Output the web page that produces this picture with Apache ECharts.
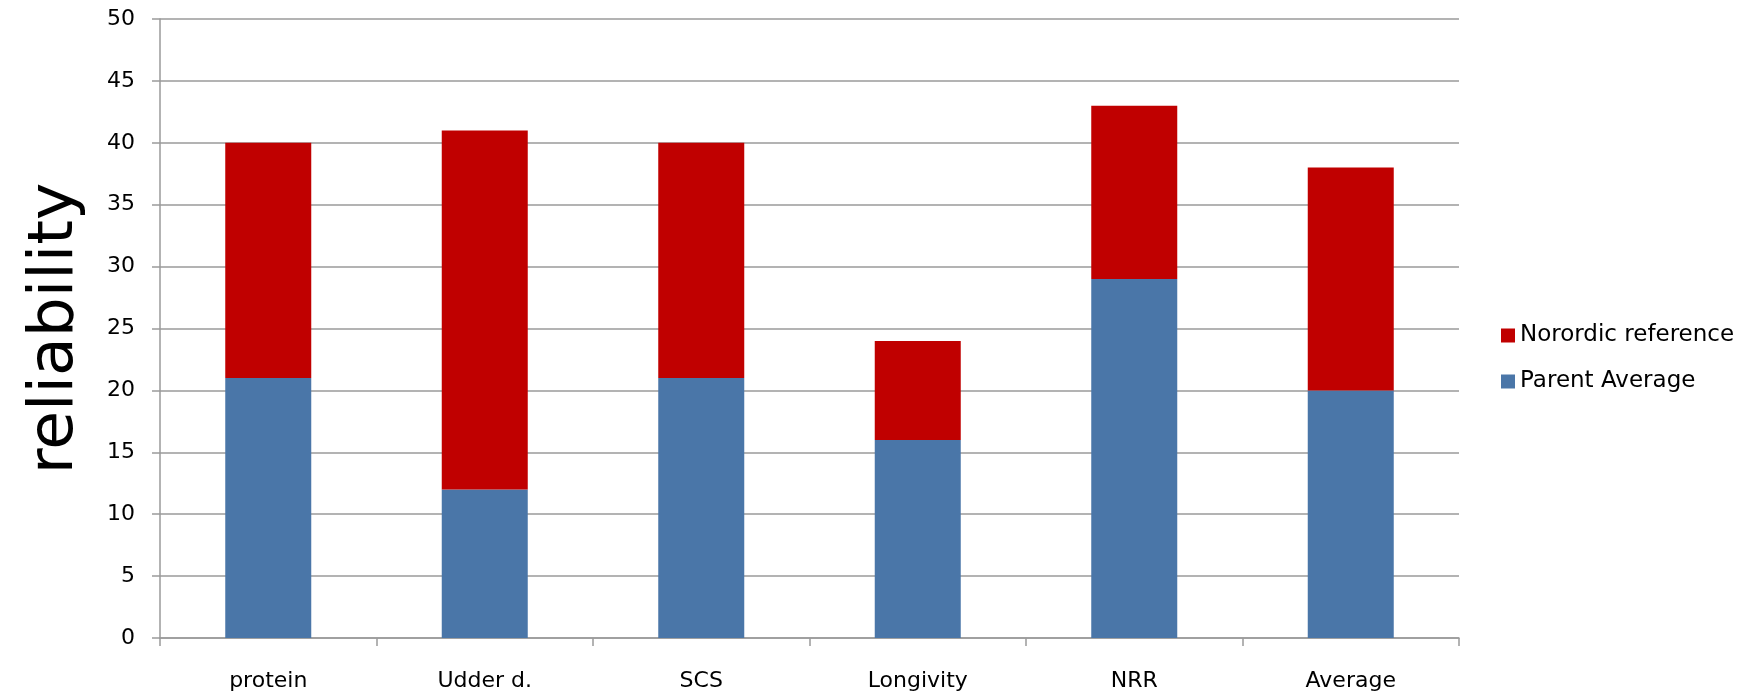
<!DOCTYPE html>
<html>
<head>
<meta charset="utf-8">
<script src="https://cdn.jsdelivr.net/npm/echarts@6/dist/echarts.min.js"></script>
<style>
  html, body { margin: 0; padding: 0; background: #fff; }
  #chart { width: 1758px; height: 694px; }
</style>
</head>
<body>
<div id="chart"></div>
<script>
// Reliability per trait, split into parent-average part and Nordic reference gain
const categories = ['protein', 'Udder d.', 'SCS', 'Longivity', 'NRR', 'Average'];
const parentAverage = [21, 12, 21, 16, 29, 20];
const nordicReference = [19, 29, 19, 8, 14, 18];
const seriesNames = ['Norordic reference', 'Parent Average'];
const yTicks = { min: 0, max: 50, interval: 5 };

const FONT = 'DejaVu Sans';
const GRID_COLOR = '#9a9a9a';

const chart = echarts.init(document.getElementById('chart'), null, { renderer: 'canvas' });

chart.setOption({
  backgroundColor: '#ffffff',
  animation: false,
  textStyle: { fontFamily: FONT, color: '#000' },
  grid: { left: 160, right: 299, top: 19, bottom: 56, containLabel: false },
  legend: {
    orient: 'vertical',
    left: 1501,
    top: 324,
    padding: 0,
    icon: 'rect',
    itemWidth: 14,
    itemHeight: 14,
    itemGap: 23,
    data: seriesNames,
    textStyle: { fontFamily: FONT, fontSize: 23, color: '#000' }
  },
  xAxis: {
    type: 'category',
    data: categories,
    axisLine: { show: true, lineStyle: { color: GRID_COLOR, width: 1.5 } },
    axisTick: { show: true, alignWithLabel: false, length: 8, lineStyle: { color: GRID_COLOR, width: 1.5 } },
    axisLabel: { fontFamily: FONT, fontSize: 22, color: '#000', margin: 32 },
    splitLine: { show: false }
  },
  yAxis: {
    type: 'value',
    min: yTicks.min,
    max: yTicks.max,
    interval: yTicks.interval,
    name: 'reliability',
    nameLocation: 'middle',
    nameRotate: 90,
    nameGap: 73,
    nameTextStyle: { fontFamily: FONT, fontSize: 63, color: '#000' },
    axisLine: { show: true, lineStyle: { color: GRID_COLOR, width: 1.5 } },
    axisTick: { show: true, length: 8, lineStyle: { color: GRID_COLOR, width: 1.5 } },
    axisLabel: { fontFamily: FONT, fontSize: 22, color: '#000', margin: 25 },
    splitLine: { show: true, lineStyle: { color: GRID_COLOR, width: 1.5 } }
  },
  series: [
    {
      name: 'Parent Average',
      type: 'bar',
      stack: 'total',
      barWidth: 86,
      data: parentAverage,
      itemStyle: { color: '#4a76a8' }
    },
    {
      name: 'Norordic reference',
      type: 'bar',
      stack: 'total',
      barWidth: 86,
      data: nordicReference,
      itemStyle: { color: '#c00000' }
    }
  ]
});
</script>
</body>
</html>
